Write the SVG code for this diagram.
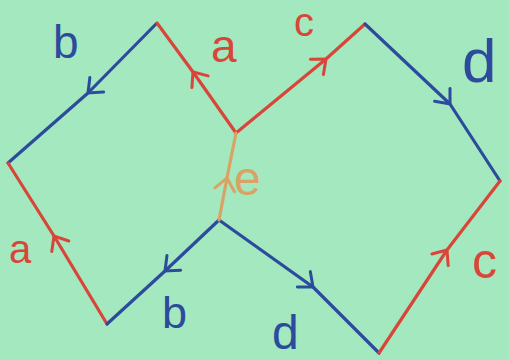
<svg xmlns="http://www.w3.org/2000/svg" width="509" height="360" viewBox="0 0 509 360">
<defs>
<style>
.e{fill:none;stroke-width:3.2;stroke-linecap:round;stroke-linejoin:round}
.r{stroke:#d8463a}.bl{stroke:#2d4b9c}.o{stroke:#d9a366}
.t{font-family:"Liberation Sans","DejaVu Sans",sans-serif}
.tr{fill:#d8463a}.tb{fill:#2d4b9c}.to{fill:#d9a366}
</style>
<marker id="ar" viewBox="-14 -12 16 24" markerWidth="16" markerHeight="24" refX="0" refY="0" orient="auto" markerUnits="userSpaceOnUse"><path d="M-12,-10 L0,0 L-12,10" fill="none" stroke="#d8463a" stroke-width="3" stroke-linecap="round"/></marker>
<marker id="ab" viewBox="-14 -12 16 24" markerWidth="16" markerHeight="24" refX="0" refY="0" orient="auto" markerUnits="userSpaceOnUse"><path d="M-12,-10 L0,0 L-12,10" fill="none" stroke="#2d4b9c" stroke-width="3" stroke-linecap="round"/></marker>
<marker id="ao" viewBox="-14 -12 16 24" markerWidth="16" markerHeight="24" refX="0" refY="0" orient="auto" markerUnits="userSpaceOnUse"><path d="M-12,-10 L0,0 L-12,10" fill="none" stroke="#d9a366" stroke-width="3" stroke-linecap="round"/></marker>
</defs>
<rect width="509" height="360" fill="#a3e8bf"/>
<g id="connectors">
<path class="e bl" d="M156,24 L88,93 L8,163" marker-mid="url(#ab)"/>
<path class="e r" d="M236,133 L193,72 L157,23" marker-mid="url(#ar)"/>
<path class="e r" d="M236,133 L326,59 L365,24" marker-mid="url(#ar)"/>
<path class="e bl" d="M365,24 L450,104 L500,181" marker-mid="url(#ab)"/>
<path class="e r" d="M107,324 L54,236 L8,163" marker-mid="url(#ar)"/>
<path class="e bl" d="M219,220 L165,271 L107,324" marker-mid="url(#ab)"/>
<path class="e bl" d="M219,220 L313,287 L379,353" marker-mid="url(#ab)"/>
<path class="e r" d="M379,353 L447,250 L500,181" marker-mid="url(#ar)"/>
<path class="e o" d="M219,220 L227,178 L236,133" marker-mid="url(#ao)"/>
</g>
<g id="labels">
<text class="t tb" x="53" y="58" font-size="46">b</text>
<text class="t tr" x="211" y="62" font-size="46">a</text>
<text class="t tr" x="294" y="36" font-size="40">c</text>
<text class="t tb" x="462" y="82" font-size="62">d</text>
<text class="t to" x="234" y="195" font-size="48">e</text>
<text class="t tr" x="9" y="263" font-size="40">a</text>
<text class="t tb" x="162" y="328" font-size="45">b</text>
<text class="t tb" x="272" y="349" font-size="48">d</text>
<text class="t tr" x="472" y="278" font-size="50">c</text>
</g>
</svg>
